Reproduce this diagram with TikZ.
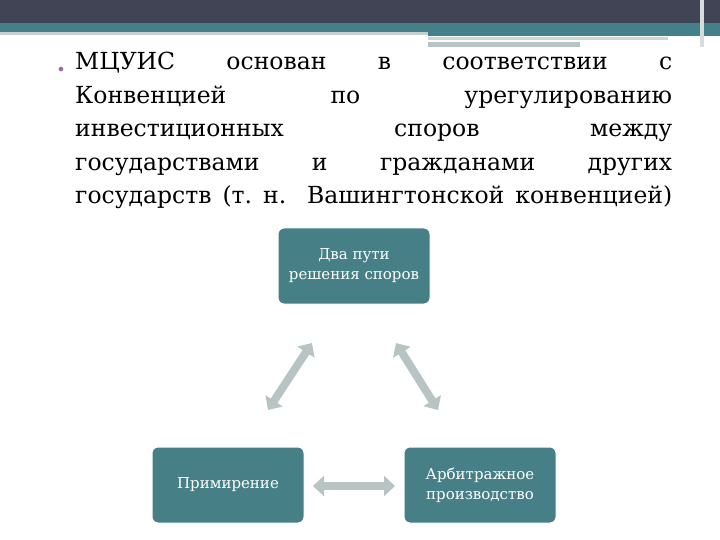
\documentclass[tikz,border=0pt]{standalone}
\usepackage{fontspec}
\setmainfont{DejaVu Serif}
\usetikzlibrary{arrows.meta}
\definecolor{topdark}{HTML}{404454}
\definecolor{tealc}{HTML}{44808A}
\definecolor{boxc}{HTML}{467F86}
\definecolor{arr}{HTML}{B8C4C4}
\definecolor{bul}{HTML}{9A6BA0}
\begin{document}
\begin{tikzpicture}[x=1pt,y=-1pt,
  box/.style={fill=boxc,draw=white,line width=1pt,rounded corners=6pt,minimum width=152pt,minimum height=76pt,text=white,align=center,font=\fontsize{15}{20}\selectfont},
  dbl/.style={draw=arr,line width=8pt,{Triangle[width=20pt,length=11pt]}-{Triangle[width=20pt,length=11pt]}}]
\useasboundingbox (0,0) rectangle (720,540);
\fill[white] (0,0) rectangle (720,540);
\fill[topdark] (0,0) rectangle (720,23);
\fill[tealc] (0,23) rectangle (720,32);
\fill[tealc] (428,32) rectangle (720,36);
\fill[arr!80] (0,32) rectangle (428,35);
\fill[arr] (428,42) rectangle (580,47);
\fill[arr!70] (428,37) rectangle (668,40);
\fill[arr!60] (700,0) rectangle (704,47);
\node[anchor=north west,inner sep=0pt,text width=597pt,align=justify,font=\fontsize{23.5}{33.5}\selectfont] (txt) at (75,52)
 {МЦУИС основан в соответствии с\linebreak Конвенцией по урегулированию\linebreak инвестиционных споров между\linebreak государствами и гражданами других\linebreak государств (т.~н. Вашингтонской конвенцией)\parfillskip=0pt\par};
\node[text=bul,font=\fontsize{16}{16}\selectfont,inner sep=0pt] (b) at (61,71) {•};
\node[box] (top) at (354,266) {Два пути\\решения споров};
\node[box] (lft) at (228,485) {Примирение};
\node[box] (rgt) at (480,485) {Арбитражное\\производство};
\coordinate (a1) at (312,343); \coordinate (a2) at (268,410);
\coordinate (b1) at (396,343); \coordinate (b2) at (438,410);
\coordinate (c1) at (313,486); \coordinate (c2) at (395,486);
\draw[dbl] (a1) -- (a2);
\draw[dbl] (b1) -- (b2);
\draw[dbl] (c1) -- (c2);
\end{tikzpicture}
\end{document}
